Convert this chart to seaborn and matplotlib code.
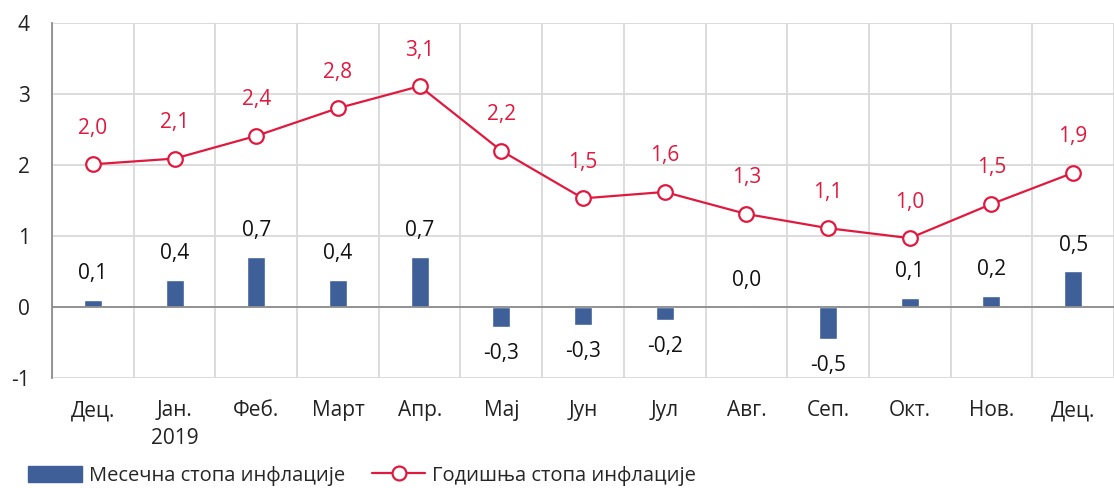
import matplotlib
matplotlib.use("Agg")
import matplotlib.pyplot as plt
import seaborn as sns
import numpy as np
import pandas as pd
from matplotlib.lines import Line2D
from matplotlib.patches import Patch

categories = ["Дец.", "Јан.\n2019", "Феб.", "Март", "Апр.", "Мај", "Јун", "Јул", "Авг.", "Сеп.", "Окт.", "Нов.", "Дец."]
monthly = [0.1, 0.38, 0.7, 0.38, 0.7, -0.28, -0.25, -0.19, 0.0, -0.45, 0.13, 0.16, 0.5]
monthly_labels = ["0,1", "0,4", "0,7", "0,4", "0,7", "-0,3", "-0,3", "-0,2", "0,0", "-0,5", "0,1", "0,2", "0,5"]
annual = [2.01, 2.09, 2.41, 2.8, 3.11, 2.2, 1.53, 1.62, 1.31, 1.11, 0.97, 1.45, 1.89]
annual_labels = ["2,0", "2,1", "2,4", "2,8", "3,1", "2,2", "1,5", "1,6", "1,3", "1,1", "1,0", "1,5", "1,9"]
series_names = ["Месечна стопа инфлације", "Годишња стопа инфлације"]
yticks = [-1, 0, 1, 2, 3, 4]

sns.set_theme(style="white")
plt.rcParams['font.family'] = ['Open Sans', 'DejaVu Sans']

BLUE = "#3E5F98"
RED = "#E0193F"
GRID = "#D9D9D9"
FS = 15

fig = plt.figure(figsize=(11.14, 4.88), dpi=100)
ax = fig.add_axes([0.0467, 0.2254, 0.9533, 0.7275])

df = pd.DataFrame({"cat": range(len(categories)), "monthly": monthly, "annual": annual})
sns.barplot(data=df, x="cat", y="monthly", color=BLUE, width=0.22, ax=ax,
            saturation=1, zorder=3)
sns.lineplot(data=df, x="cat", y="annual", color=RED, lw=1.6, marker="o",
             markersize=10.5, markerfacecolor="white", markeredgecolor=RED,
             markeredgewidth=1.6, ax=ax, zorder=4)

ax.set_xlim(-0.5, len(categories) - 0.5)
ax.set_ylim(-1, 4)
ax.set_yticks(yticks)
ax.set_yticklabels([str(t) for t in yticks], fontsize=FS, color="#222222")
ax.set_xticks(range(len(categories)))
ax.set_xticklabels(categories, fontsize=FS, color="#222222", linespacing=1.45)
ax.set_xlabel("")
ax.set_ylabel("")
ax.tick_params(axis="x", length=0, pad=16)
ax.tick_params(axis="y", length=0, pad=16)

ax.set_xticks(np.arange(-0.5, len(categories), 1), minor=True)
ax.grid(False)
ax.grid(True, which="minor", axis="x", color=GRID, lw=1.3, zorder=0)
ax.grid(True, which="major", axis="y", color=GRID, lw=1.3, zorder=0)
for s in ["top", "right", "bottom"]:
    ax.spines[s].set_visible(False)
ax.spines["left"].set_color("#8C8C8C")
ax.spines["left"].set_linewidth(1.3)
ax.axhline(0, color="#8C8C8C", lw=1.3, zorder=3.5)

for i, (v, lab) in enumerate(zip(monthly, monthly_labels)):
    off = 19 if v >= 0 else -19
    ax.annotate(lab, (i, v), xytext=(0, off), textcoords="offset points",
                ha="center", va="center", fontsize=FS, color="#111111")

for i, (v, lab) in enumerate(zip(annual, annual_labels)):
    ax.annotate(lab, (i, v), xytext=(0, 26), textcoords="offset points",
                ha="center", va="center", fontsize=FS, color=RED)

handles = [Patch(facecolor=BLUE, edgecolor=BLUE),
           Line2D([], [], color=RED, lw=1.6, marker="o", markersize=10,
                  markerfacecolor="white", markeredgecolor=RED, markeredgewidth=1.6)]
fig.legend(handles, series_names, loc="center left", bbox_to_anchor=(0.009, 0.025),
           ncol=2, frameon=False, fontsize=14.5, handlelength=2.65, handleheight=0.8,
           columnspacing=1.35, handletextpad=0.35)

fig.savefig("out.png", dpi=100)
